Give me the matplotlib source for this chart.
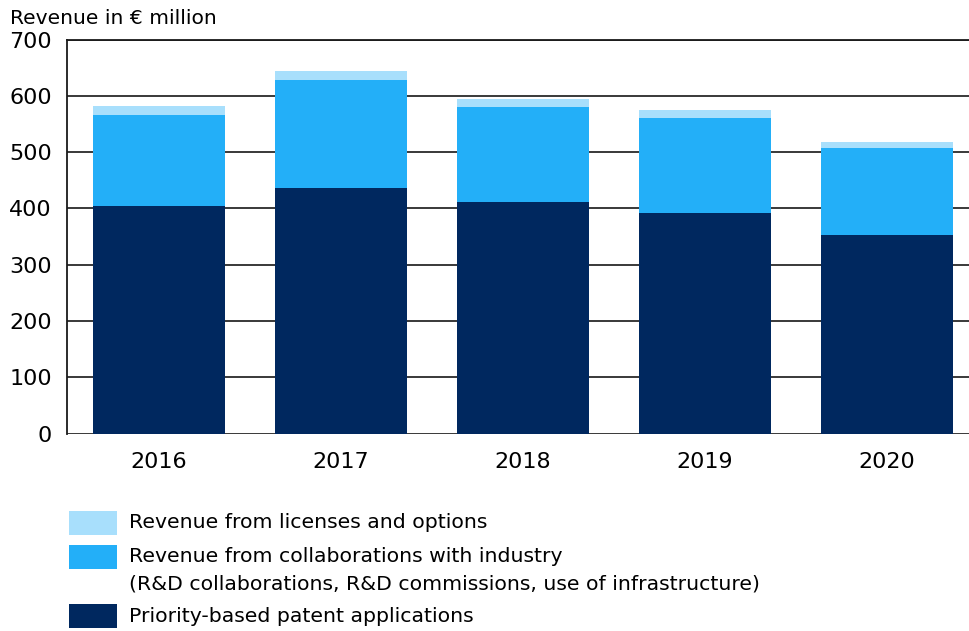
import matplotlib.pyplot as plt
from matplotlib.patches import Rectangle
import numpy as np

# Werte in Mio. Euro
years = ['2016', '2017', '2018', '2019', '2020']
patents = [404, 436, 411, 392, 353]
industry = [162, 192, 169, 168, 154]
licenses = [16, 16, 14, 14, 11]

c_dark = '#00285F'
c_mid = '#23AFF8'
c_light = '#A8DFFC'

plt.rcParams['font.family'] = ['DejaVu Sans']

fig = plt.figure(figsize=(9.69, 6.31), dpi=100)
W, H = 969, 631
ax = fig.add_axes([67 / W, 1 - 433.5 / H, (979 - 67) / W, 394 / H])

x = np.arange(len(years))
bw = 0.725
ax.bar(x, patents, bw, color=c_dark, zorder=3)
ax.bar(x, industry, bw, bottom=patents, color=c_mid, zorder=3)
ax.bar(x, licenses, bw, bottom=np.add(patents, industry), color=c_light, zorder=3)

ax.set_xlim(-0.505, 4.505)
ax.set_ylim(0, 700)
ax.set_yticks(range(0, 701, 100))
ax.yaxis.grid(True, color='#2a2a2a', linewidth=1.3, zorder=0)
ax.set_axisbelow(True)
ax.set_xticks(x)
ax.set_xticklabels(years, fontsize=16)
ax.tick_params(axis='y', labelsize=16, length=0, pad=11)
ax.tick_params(axis='x', length=0, pad=13)
for s in ['right', 'bottom']:
    ax.spines[s].set_visible(False)
for s in ['top', 'left']:
    ax.spines[s].set_color('#1a1a1a')
    ax.spines[s].set_linewidth(1.3)

fig.text(10 / W, 1 - 19 / H, 'Revenue in € million', fontsize=14.6, va='center', ha='left')

# Legende manuell
legend_rows = [
    (c_light, 523, 'Revenue from licenses and options'),
    (c_mid, 557, 'Revenue from collaborations with industry'),
    (c_dark, 616, 'Priority-based patent applications'),
]
for col, yc, lab in legend_rows:
    fig.add_artist(Rectangle((69 / W, 1 - (yc + 12) / H), 48 / W, 24 / H,
                             transform=fig.transFigure, color=col, lw=0))
    fig.text(129 / W, 1 - yc / H, lab, fontsize=14.7, va='center', ha='left')
fig.text(129 / W, 1 - 584 / H,
         '(R&D collaborations, R&D commissions, use of infrastructure)',
         fontsize=14.7, va='center', ha='left')

fig.savefig('out.png', dpi=100)
